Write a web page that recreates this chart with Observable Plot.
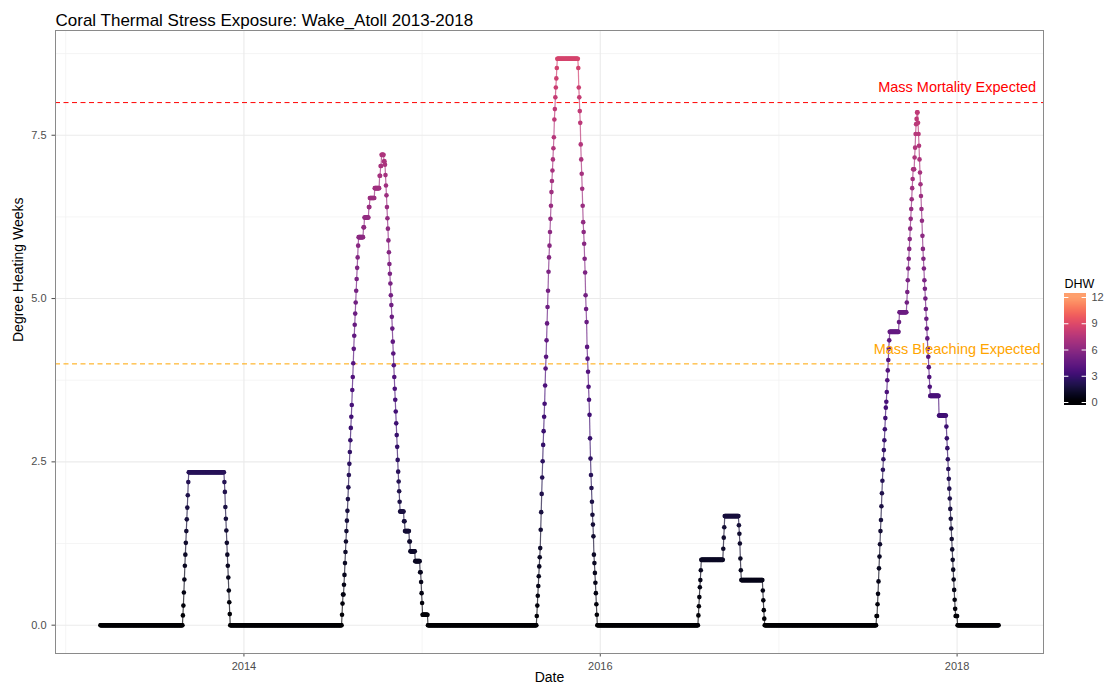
<!DOCTYPE html>
<html>
<head>
<meta charset="utf-8">
<script src="https://cdn.jsdelivr.net/npm/d3@7"></script>
<script src="https://cdn.jsdelivr.net/npm/@observablehq/plot@0.6"></script>
<style>
  body { margin: 0; background: #fff; }
  #wrap { position: relative; width: 1109px; height: 693px; font-family: "Liberation Sans", Arial, sans-serif; }
  #wrap > svg { position: absolute; left: 0; top: 0; }
  #wrap > svg.legend { left: 1058px; top: 270px; }
</style>
</head>
<body>
<div id="wrap"></div>
<script>
// ---------------- DATA (daily Degree Heating Weeks, Wake Atoll) ----------------
// A plain number = one day at that value; [value, days] = value held for that many days.
const seriesStart = "2013-03-13";

const dhw2013 = [
  [0, 169],
  0.15, 0.30, 0.50, 0.70, 0.91, 1.08, 1.26, 1.44, 1.62, 1.80, 1.99, 2.19,
  [2.34, 73],
  2.19, 2.04, 1.81, 1.63, 1.45, 1.26, 1.08, 0.91, 0.73, 0.53, 0.35, 0.17
];

const dhw2014 = [
  [0, 229],
  0.16, 0.33, 0.47, 0.47, 0.62, 0.77, 0.95, 1.12, 1.28, 1.44, 1.60, 1.75, 1.93, 2.11, 2.30, 2.47, 2.65,
  2.83, 3.02, 3.19, 3.37, 3.60, 3.80, 4.01, 4.23, 4.43, 4.60, 4.77, 4.94, 5.12, 5.30, 5.47, 5.63, 5.81,
  [5.94, 10], 6.09, 6.09, [6.24, 9], 6.40, 6.40, [6.54, 10], [6.69, 10], 6.88, 6.88, 7.03, 7.03, [7.20, 5], 7.10, 7.10,
  7.05, 6.89, 6.73, 6.58, 6.40, 6.23, 6.07, 5.89, 5.71, 5.53, 5.38, 5.23, 5.05, 4.90, 4.72, 4.54, 4.34,
  4.16, 3.98, 3.80, 3.62, 3.45, 3.27, 3.09, 2.91, 2.73, 2.53, 2.35, 2.20, 2.05, 1.89,
  [1.74, 8], 1.59, 1.59, [1.44, 9], 1.28, 1.28, [1.13, 10], [0.98, 10], 0.81, 0.81, 0.66, 0.49, 0.34, [0.16, 11]
];

const dhw2015 = [
  [0, 223],
  0.14, 0.30, 0.45, 0.60, 0.75, 0.90, 1.04, 1.18, 1.46, 1.73, 2.01, 2.26, 2.51, 2.76, 2.97, 3.19, 3.39,
  3.67, 3.93, 4.11, 4.36, 4.62, 4.87, 5.12, 5.41, 5.63, 5.81, 6.02, 6.22, 6.42, 6.63, 6.80, 6.96, 7.13,
  7.30, 7.47, 7.74, 7.90, 8.08, 8.23, 8.37, 8.53,
  [8.67, 43],
  8.53, 8.23, 8.08, 7.87, 7.69, 7.36, 7.13, 6.91, 6.68, 6.42, 6.17, 6.02, 5.84, 5.61, 5.40, 5.05, 4.84,
  4.64, 4.26, 4.08, 3.88, 3.65, 3.45, 3.22, 2.86, 2.55, 2.30, 2.10, 1.89, 1.69, 1.54, 1.36, 1.08, 0.95,
  0.80, 0.65, 0.49, 0.32, 0.16
];

const dhw2016 = [
  [0, 207],
  0.15, 0.29, 0.43, 0.58, 0.69, 0.84,
  [1.00, 45],
  1.17, 1.34, 1.50,
  [1.67, 29],
  1.53, 1.40, 1.25, 1.02, 0.84,
  [0.69, 44],
  0.53, 0.38, 0.23, 0.10
];

const dhw2017 = [
  [0, 229],
  0.14, 0.14, 0.32, 0.48, 0.67, 0.87, 1.05, 1.24, 1.44, 1.61, 1.82, 2.02, 2.21, 2.38, 2.54, 2.68, 2.83,
  3.00, 3.17, 3.33, 3.42, 3.57, 3.75, 3.90, 4.06, 4.23, 4.36,
  [4.49, 19], 4.64, [4.79, 15],
  4.94, 5.10, 5.28, 5.46, 5.61, 5.76, 5.91, 6.07, 6.22, 6.37, 6.52, 6.69, 6.83, 6.98, 6.98, 6.98, 7.16,
  7.31, 7.52, 7.67, 7.75, 7.85, 7.85,
  7.69, 7.52, 7.34, 7.13, 6.93, 6.75, 6.57, 6.37, 6.19, 5.96, 5.76, 5.61, 5.46, 5.28, 5.15, 5.00, 4.84,
  4.69, 4.54, 4.39, 4.23, 4.11, 3.95, 3.80, 3.65,
  [3.51, 18], [3.21, 15],
  3.04, 2.86, 2.71, 2.54, 2.39, 2.24, 2.09, 1.94, 1.78, 1.63, 1.48, 1.32, 1.16, 1.00, 0.85, 0.70, 0.54,
  0.39, 0.25, [0.14, 4]
];

const dhw2018 = [
  [0, 85]
];

// thresholds and annotations
const thresholdValues = [8, 4];
const thresholdColors = ["#FF0000", "#FFA500"];
const thresholdLabels = ["Mass Mortality Expected", "Mass Bleaching Expected"];
const thresholdLabelY = [8.24, 4.22];
const thresholdLabelDate = "2018-01-01";

// axis ticks / gridlines
const yMajorTicks = [0, 2.5, 5, 7.5];
const yMinorTicks = [1.25, 3.75, 6.25, 8.75];
const xMajorTicks = ["2014-01-01", "2016-01-01", "2018-01-01"];
const xMinorTicks = ["2013-01-01", "2015-01-01", "2017-01-01"];
const legendTicks = [0, 3, 6, 9, 12];
const colorDomain = [0, 12];

// ---------------- BUILD ----------------
const parseDate = s => new Date(s + "T00:00:00Z");
const DAY = 864e5;
const t0 = parseDate(seriesStart).getTime();
const pieces = [].concat(dhw2013, dhw2014, dhw2015, dhw2016, dhw2017, dhw2018);
const data = [];
for (const p of pieces) {
  const [v, n] = Array.isArray(p) ? p : [p, 1];
  for (let k = 0; k < n; k++) data.push({date: new Date(t0 + data.length * DAY), dhw: v});
}
const segs = [];
for (let i = 1; i < data.length; i++) {
  segs.push({x1: data[i - 1].date, y1: data[i - 1].dhw, x2: data[i].date, y2: data[i].dhw, c: data[i - 1].dhw});
}

const tFirst = data[0].date.getTime(), tLast = data[data.length - 1].date.getTime();
const xPad = 0.05 * (tLast - tFirst);
const yMax = d3.max(data, d => d.dhw), yMin = 0;
const yPad = 0.05 * (yMax - yMin);

const font = "'Liberation Sans', Arial, sans-serif";
const magmaPart = t => d3.interpolateMagma(0.8 * Math.max(0, Math.min(1, t)));
const colorScale = () => ({type: "linear", domain: colorDomain, interpolate: magmaPart, clamp: true});

const main = Plot.plot({
  width: 1109,
  height: 693,
  marginTop: 30,
  marginRight: 66,
  marginBottom: 40,
  marginLeft: 55,
  style: {fontFamily: font, fontSize: "11px", color: "#4d4d4d", background: "white", overflow: "visible"},
  x: {
    type: "utc",
    domain: [new Date(tFirst - xPad), new Date(tLast + xPad)],
    ticks: xMajorTicks.map(parseDate),
    tickFormat: d3.utcFormat("%Y"),
    tickSize: 3.5,
    label: null
  },
  y: {
    domain: [yMin - yPad, yMax + yPad],
    ticks: yMajorTicks,
    tickFormat: d3.format(".1f"),
    tickSize: 3.5,
    label: null
  },
  color: colorScale(),
  marks: [
    Plot.ruleY(yMinorTicks, {stroke: "#f3f3f3", strokeWidth: 0.8}),
    Plot.ruleX(xMinorTicks.map(parseDate), {stroke: "#f3f3f3", strokeWidth: 0.8}),
    Plot.ruleY(yMajorTicks, {stroke: "#ebebeb", strokeWidth: 1.1}),
    Plot.ruleX(xMajorTicks.map(parseDate), {stroke: "#ebebeb", strokeWidth: 1.1}),
    Plot.ruleY(thresholdValues, {y: d => d, stroke: (d, i) => thresholdColors[i], strokeDasharray: "5,3.5", strokeWidth: 1}),
    Plot.link(segs, {x1: "x1", y1: "y1", x2: "x2", y2: "y2", stroke: "c", strokeWidth: 1.2, strokeOpacity: 0.7}),
    Plot.dot(data, {x: "date", y: "dhw", fill: "dhw", r: 2.3, stroke: null}),
    Plot.text(thresholdLabels, {
      x: () => parseDate(thresholdLabelDate),
      y: (d, i) => thresholdLabelY[i],
      text: d => d,
      fill: (d, i) => thresholdColors[i],
      fontSize: 14.5,
      textAnchor: "middle"
    }),
    Plot.frame({stroke: "#8a8a8a", strokeWidth: 1}),
    Plot.text(["Coral Thermal Stress Exposure: Wake_Atoll 2013-2018"], {
      frameAnchor: "top-left", dy: -17, textAnchor: "start", fontSize: 17, fill: "#000"
    }),
    Plot.text(["Date"], {frameAnchor: "bottom", dy: 28, fontSize: 14, fill: "#000"}),
    Plot.text(["Degree Heating Weeks"], {frameAnchor: "left", dx: -37, rotate: -90, fontSize: 14, fill: "#000"})
  ]
});

const legendBins = d3.range(0, 111).map(i => {
  const step = 12.7 / 111;
  const lo = -0.35 + i * step;
  return {lo, hi: lo + step * 1.6, mid: lo + step / 2};
});

const legend = Plot.plot({
  width: 51,
  height: 145,
  margin: 0,
  style: {fontFamily: font, fontSize: "11px", color: "#4d4d4d", background: "transparent", overflow: "visible"},
  x: {domain: [0, 1], range: [6, 28], axis: null},
  y: {domain: colorDomain, range: [132, 27], axis: null},
  color: colorScale(),
  marks: [
    Plot.rect(legendBins, {x1: 0, x2: 1, y1: "lo", y2: "hi", fill: "mid", shapeRendering: "crispEdges"}),
    Plot.ruleY(legendTicks, {x1: 0, x2: 0.2, stroke: "white", strokeWidth: 1}),
    Plot.ruleY(legendTicks, {x1: 0.8, x2: 1, stroke: "white", strokeWidth: 1}),
    Plot.text(legendTicks, {x: 1, y: d => d, dx: 5, text: d => String(d), textAnchor: "start", fill: "#4d4d4d", fontSize: 11}),
    Plot.text(["DHW"], {frameAnchor: "top-left", dx: 6, dy: 9, textAnchor: "start", fontSize: 12.5, fill: "#000"})
  ]
});
legend.classList.add("legend");

const wrap = document.getElementById("wrap");
wrap.appendChild(main);
wrap.appendChild(legend);
</script>
</body>
</html>
